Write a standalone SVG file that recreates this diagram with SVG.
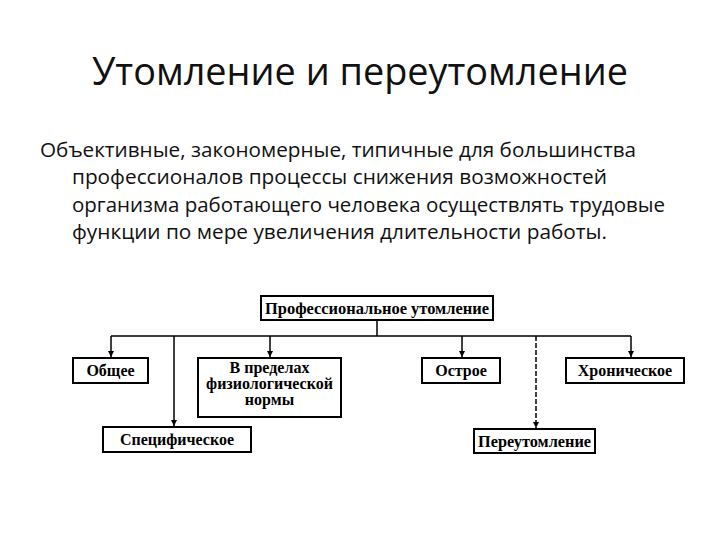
<svg xmlns="http://www.w3.org/2000/svg" width="720" height="540" viewBox="0 0 720 540">
<defs>
<style>
.title{font-family:"Open Sans","Noto Sans","DejaVu Sans",sans-serif;font-size:39px;fill:#111}
.body{font-family:"Open Sans","Noto Sans","DejaVu Sans",sans-serif;font-size:20px;fill:#111}
.box{fill:#fff;stroke:#000;stroke-width:2}
.lbl{font-family:"Liberation Serif","Times New Roman",serif;font-size:16px;font-weight:bold;fill:#000;text-anchor:middle}
.ln{fill:none;stroke:#000;stroke-width:1.5}
.dash{stroke-dasharray:5 2}
</style>
<marker id="ah" viewBox="0 0 10 10" refX="10" refY="5" markerWidth="6" markerHeight="7" markerUnits="userSpaceOnUse" orient="auto">
<path d="M0,0 L10,5 L0,10 z" fill="#000"/>
</marker>
</defs>
<rect width="720" height="540" fill="#fff"/>
<text class="title" x="360" y="85" text-anchor="middle" textLength="536" lengthAdjust="spacingAndGlyphs">Утомление и переутомление</text>
<text class="body" x="40" y="157" textLength="596" lengthAdjust="spacingAndGlyphs">Объективные, закономерные, типичные для большинства</text>
<text class="body" x="72" y="184" textLength="535" lengthAdjust="spacingAndGlyphs">профессионалов процессы снижения возможностей</text>
<text class="body" x="72" y="212" textLength="593" lengthAdjust="spacingAndGlyphs">организма работающего человека осуществлять трудовые</text>
<text class="body" x="72" y="239" textLength="535" lengthAdjust="spacingAndGlyphs">функции по мере увеличения длительности работы.</text>

<g id="connectors">
<line class="ln" x1="377" y1="320" x2="377" y2="336"/>
<line class="ln" x1="111" y1="336" x2="631" y2="336"/>
<line class="ln" x1="111" y1="336" x2="111" y2="357" marker-end="url(#ah)"/>
<line class="ln" x1="174" y1="336" x2="174" y2="426" marker-end="url(#ah)"/>
<line class="ln" x1="270" y1="336" x2="270" y2="357" marker-end="url(#ah)"/>
<line class="ln" x1="462" y1="336" x2="462" y2="357" marker-end="url(#ah)"/>
<line class="ln dash" x1="536" y1="336" x2="536" y2="428" marker-end="url(#ah)"/>
<line class="ln" x1="631" y1="336" x2="631" y2="357" marker-end="url(#ah)"/>
</g>

<g id="n-prof">
<rect class="box" x="261" y="296" width="232" height="24"/>
<text class="lbl" x="377" y="313.5" textLength="224" lengthAdjust="spacingAndGlyphs">Профессиональное утомление</text>
</g>
<g id="n-obshchee">
<rect class="box" x="73" y="358" width="75" height="25"/>
<text class="lbl" x="110.5" y="376">Общее</text>
</g>
<g id="n-norma">
<rect class="box" x="198" y="358" width="143" height="59"/>
<text class="lbl" x="269.5" y="373">В пределах</text>
<text class="lbl" x="269.5" y="389">физиологической</text>
<text class="lbl" x="269.5" y="405">нормы</text>
</g>
<g id="n-spec">
<rect class="box" x="103" y="427" width="148" height="25"/>
<text class="lbl" x="177" y="445">Специфическое</text>
</g>
<g id="n-ostroe">
<rect class="box" x="422" y="358" width="78" height="25"/>
<text class="lbl" x="461" y="376">Острое</text>
</g>
<g id="n-hron">
<rect class="box" x="566" y="358" width="118" height="25"/>
<text class="lbl" x="625" y="376">Хроническое</text>
</g>
<g id="n-pereut">
<rect class="box" x="474" y="429" width="121" height="24"/>
<text class="lbl" x="534.5" y="446.5" textLength="113" lengthAdjust="spacingAndGlyphs">Переутомление</text>
</g>
</svg>
